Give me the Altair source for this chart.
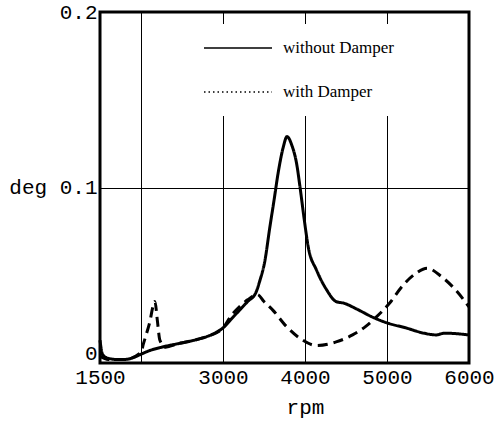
import altair as alt
import pandas as pd

series_names = ["without Damper", "with Damper"]

rpm_without = [1500, 1530, 1580, 1700, 1800, 1900, 2000, 2100, 2250, 2450, 2650, 2800, 2900,
               3000, 3100, 3200, 3300, 3400, 3450, 3510, 3570, 3620, 3675, 3735, 3780, 3840,
               3900, 3940, 3990, 4040, 4140, 4260, 4380, 4480, 4620, 4830, 4990, 5230, 5450,
               5600, 5700, 6000]
deg_without = [0.013, 0.005, 0.003, 0.002, 0.002, 0.003, 0.005, 0.007, 0.009, 0.011, 0.013, 0.015, 0.017,
               0.020, 0.025, 0.030, 0.035, 0.040, 0.047, 0.058, 0.077, 0.092, 0.109, 0.123, 0.129, 0.124,
               0.113, 0.100, 0.082, 0.066, 0.053, 0.042, 0.035, 0.034, 0.031, 0.026, 0.023, 0.020, 0.017,
               0.016, 0.017, 0.016]

rpm_with = [1500, 1600, 1800, 2000, 2030, 2100, 2170, 2200, 2230, 2300, 2450, 2650, 2800, 3000,
            3100, 3200, 3300, 3420, 3500, 3610, 3770, 3940, 4140, 4380, 4580, 4745, 4865, 5030,
            5190, 5350, 5490, 5670, 5830, 6000]
deg_with = [0.004, 0.002, 0.002, 0.006, 0.011, 0.022, 0.035, 0.024, 0.013, 0.009, 0.011, 0.013, 0.015, 0.020,
            0.027, 0.032, 0.036, 0.039, 0.035, 0.030, 0.021, 0.014, 0.010, 0.012, 0.016, 0.021, 0.026, 0.034,
            0.044, 0.051, 0.054, 0.049, 0.042, 0.032]

x_ticks = [1500, 2000, 3000, 4000, 5000, 6000]
y_ticks = [0, 0.1, 0.2]

df = pd.concat([
    pd.DataFrame({"rpm": rpm_without, "deg": deg_without, "series": series_names[0]}),
    pd.DataFrame({"rpm": rpm_with, "deg": deg_with, "series": series_names[1]}),
], ignore_index=True)

x_enc = alt.X(
    "rpm:Q",
    scale=alt.Scale(domain=[1500, 6000], nice=False, zero=False),
    axis=alt.Axis(
        values=x_ticks,
        labelExpr="datum.value == 2000 ? '' : datum.label",
        format="d",
        title="rpm",
        titleX=205, titleY=50, titleBaseline="alphabetic",
        titleFont="Liberation Mono", titleFontSize=21, titleFontWeight="normal", titleColor="black",
        labelFont="Liberation Mono", labelFontSize=21, labelColor="black", labelFlush=False,
        labelPadding=3, ticks=False, domain=False,
        grid=True, gridColor="black", gridWidth=1, gridOpacity=1,
    ),
)
y_enc = alt.Y(
    "deg:Q",
    scale=alt.Scale(domain=[0, 0.2], nice=False),
    axis=alt.Axis(
        values=y_ticks,
        labelExpr="datum.value == 0 ? '0' : (datum.value == 0.1 ? 'deg 0.1' : '0.2')",
        title=None,
        labelFont="Liberation Mono", labelFontSize=21, labelColor="black",
        labelBaseline={"condition": {"test": "datum.value == 0", "value": "bottom"}, "value": "middle"},
        labelPadding=3, ticks=False, domain=False,
        grid=True, gridColor="black", gridWidth=1, gridOpacity=1,
    ),
)

base = alt.Chart(df).encode(x=x_enc, y=y_enc)

lines = base.mark_line(color="black", strokeWidth=3, interpolate="monotone").encode(
    strokeDash=alt.StrokeDash(
        "series:N",
        scale=alt.Scale(domain=series_names, range=[[1, 0], [10, 6]]),
        legend=None,
    )
)

legend_layer = base.transform_filter("false").mark_line(color="black", strokeWidth=1.5).encode(
    strokeDash=alt.StrokeDash(
        "series:N",
        scale=alt.Scale(domain=series_names, range=[[1, 0], [1.5, 3]]),
        legend=alt.Legend(
            title=None, orient="none", legendX=89, legendY=12,
            fillColor="white", padding=14,
            symbolType="stroke", symbolSize=4624, symbolStrokeWidth=1.5, symbolStrokeColor="black",
            labelFont="Liberation Serif", labelFontSize=17, labelColor="black",
            labelOffset=10, labelLimit=300, rowPadding=24, clipHeight=20,
        ),
    )
)

chart = alt.layer(lines, legend_layer).resolve_scale(strokeDash="independent").properties(
    width=369, height=351,
    autosize=alt.AutoSizeParams(type="none"),
    padding={"left": 100, "top": 12, "right": 32, "bottom": 58},
    background="white",
).configure_view(stroke="black", strokeWidth=3)

chart.save("out.html", embed_options={"renderer": "svg", "actions": False})
